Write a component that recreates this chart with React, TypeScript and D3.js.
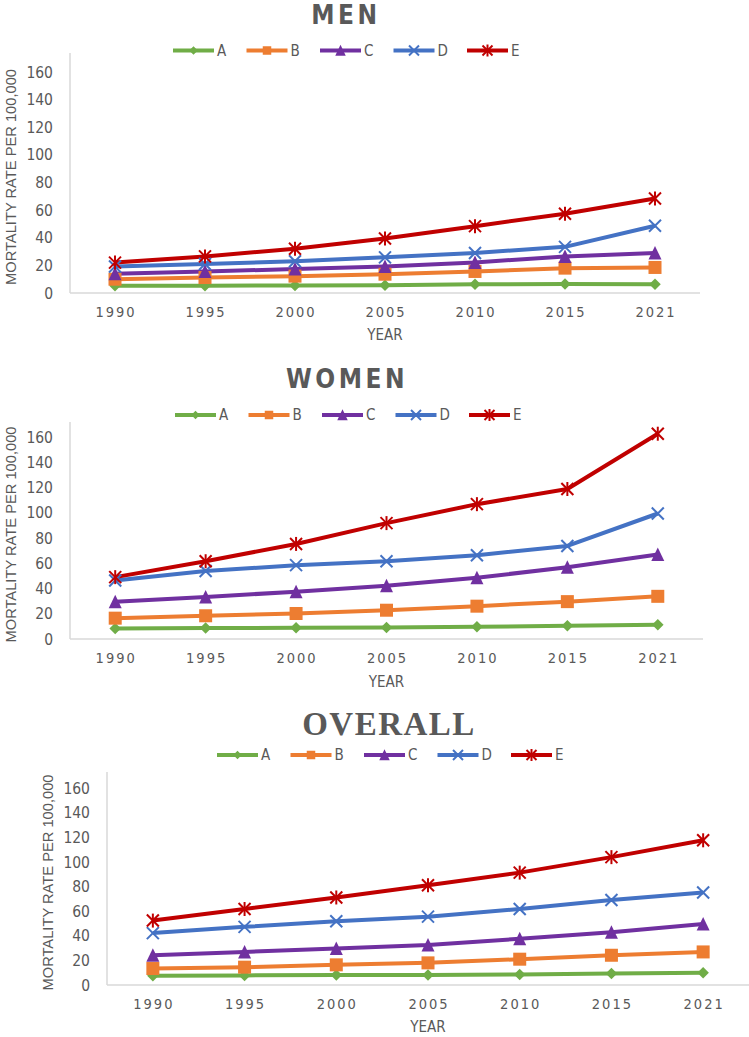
import React from "react";
import * as d3 from "d3";

const years = ["1990", "1995", "2000", "2005", "2010", "2015", "2021"];
const yTicks = [0, 20, 40, 60, 80, 100, 120, 140, 160];
const seriesNames = ["A", "B", "C", "D", "E"];
const seriesColors = ["#70AD47", "#ED7D31", "#7030A0", "#4472C4", "#C00000"];
const panelTitles = ["MEN", "WOMEN", "OVERALL"];
const yAxisLabel = "MORTALITY RATE PER 100,000";
const xAxisLabel = "YEAR";

const menA = [5.3, 5.3, 5.5, 5.6, 6.3, 6.6, 6.3];
const menB = [10, 11.2, 12.2, 13.6, 15.6, 18, 18.5];
const menC = [13.9, 15.6, 17.3, 19.2, 22.1, 26.5, 29];
const menD = [19.2, 21, 23, 25.8, 29, 33.4, 48.7];
const menE = [22, 26.5, 32, 39.4, 48.4, 57.4, 68.4];

const womenA = [8.4, 8.7, 8.9, 9.2, 9.7, 10.5, 11.3];
const womenB = [16.5, 18.4, 20.2, 22.8, 26, 29.6, 33.8];
const womenC = [29.6, 33.3, 37.5, 42.2, 48.5, 56.9, 66.9];
const womenD = [46.4, 53.8, 58.5, 61.6, 66.4, 73.7, 99.4];
const womenE = [49, 61.6, 75.3, 91.8, 106.8, 118.8, 162.6];

const overallA = [7.5, 7.8, 8.1, 8.1, 8.6, 9.4, 9.9];
const overallB = [13.4, 14.5, 16.4, 18, 21, 24.2, 26.9];
const overallC = [24.2, 26.9, 29.6, 32.5, 37.6, 43, 49.7];
const overallD = [42.2, 47.3, 51.9, 55.6, 61.8, 69.1, 75.3];
const overallE = [52.4, 61.8, 71.2, 81.2, 91.4, 104, 117.7];

const panelData = [
  [menA, menB, menC, menD, menE],
  [womenA, womenB, womenC, womenD, womenE],
  [overallA, overallB, overallC, overallD, overallE],
];

const SANS_COND = "'DejaVu Sans Condensed', 'DejaVu Sans', sans-serif";
const TEXT = "#595959";
const AXIS = "#D9D9D9";

const layouts = [
  { x0: 70, x1: 700, yBase: 293, y160: 72, axisTop: 53, tickRight: 53, xLabelY: 312, yearY: 335, yLabelX: 11, titleX: 346, titleY: 24, serif: false, legendX: 173, legendY: 50.5 },
  { x0: 70, x1: 703, yBase: 639, y160: 437, axisTop: 422, tickRight: 53, xLabelY: 658, yearY: 682, yLabelX: 11, titleX: 347, titleY: 388, serif: false, legendX: 175, legendY: 415 },
  { x0: 107, x1: 749, yBase: 985, y160: 788.3, axisTop: 772, tickRight: 90, xLabelY: 1004, yearY: 1027, yLabelX: 48, titleX: 389, titleY: 735, serif: true, legendX: 217, legendY: 755 },
];

function Marker({ kind, x, y, color, s }: { kind: number; x: number; y: number; color: string; s: number }) {
  const h = s / 2;
  if (kind === 0) {
    return <polygon points={`${x},${y - h} ${x + h},${y} ${x},${y + h} ${x - h},${y}`} fill={color} />;
  }
  if (kind === 1) {
    return <rect x={x - h} y={y - h} width={s} height={s} fill={color} />;
  }
  if (kind === 2) {
    return <polygon points={`${x},${y - h - 0.5} ${x + h},${y + h} ${x - h},${y + h}`} fill={color} />;
  }
  if (kind === 3) {
    return (
      <g stroke={color} strokeWidth={2}>
        <line x1={x - h} y1={y - h} x2={x + h} y2={y + h} />
        <line x1={x - h} y1={y + h} x2={x + h} y2={y - h} />
      </g>
    );
  }
  return (
    <g stroke={color} strokeWidth={2}>
      <line x1={x - h} y1={y - h} x2={x + h} y2={y + h} />
      <line x1={x - h} y1={y + h} x2={x + h} y2={y - h} />
      <line x1={x} y1={y - h - 1} x2={x} y2={y + h + 1} />
    </g>
  );
}

function Panel({ idx }: { idx: number }) {
  const L = layouts[idx];
  const data = panelData[idx];
  const x = d3.scaleBand<string>().domain(years).range([L.x0, L.x1]);
  const y = d3.scaleLinear().domain([0, 160]).range([L.yBase, L.y160]);
  const cx = (yr: string) => (x(yr) as number) + x.bandwidth() / 2;
  const line = d3
    .line<number>()
    .x((_, i) => cx(years[i]))
    .y((d) => y(d));
  const markerSizes = [11.5, 13, 13, 12, 12];
  const legendMarkerSizes = [8.5, 8.5, 10.5, 10, 10];
  return (
    <g>
      <text
        x={L.titleX}
        y={L.titleY}
        textAnchor="middle"
        fill={TEXT}
        fontFamily={L.serif ? "'Liberation Serif', 'Times New Roman', serif" : SANS_COND}
        fontWeight="bold"
        fontSize={L.serif ? 33 : 26}
        letterSpacing={L.serif ? 1.5 : 3.5}
      >
        {panelTitles[idx]}
      </text>
      {seriesNames.map((name, i) => {
        const lx = L.legendX + i * 73.5;
        return (
          <g key={name}>
            <line x1={lx} x2={lx + 41} y1={L.legendY} y2={L.legendY} stroke={seriesColors[i]} strokeWidth={4} />
            <Marker kind={i} x={lx + 20.5} y={L.legendY} color={seriesColors[i]} s={legendMarkerSizes[i]} />
            <text x={lx + 44} y={L.legendY} dy="0.36em" fill={TEXT} fontFamily={SANS_COND} fontSize={15}>
              {name}
            </text>
          </g>
        );
      })}
      <line x1={L.x0} x2={L.x0} y1={L.axisTop} y2={L.yBase} stroke={AXIS} strokeWidth={1.5} />
      <line x1={L.x0} x2={L.x1} y1={L.yBase} y2={L.yBase} stroke={AXIS} strokeWidth={1.5} />
      {yTicks.map((t) => (
        <text key={t} x={L.tickRight} y={y(t)} dy="0.36em" textAnchor="end" fill={TEXT} fontFamily={SANS_COND} fontSize={15.5}>
          {t}
        </text>
      ))}
      {years.map((yr) => (
        <text key={yr} x={cx(yr) + 1} y={L.xLabelY} dy="0.36em" textAnchor="middle" fill={TEXT} fontFamily={SANS_COND} fontSize={14.5} letterSpacing={2}>
          {yr}
        </text>
      ))}
      <text x={(L.x0 + L.x1) / 2} y={L.yearY} dy="0.36em" textAnchor="middle" fill={TEXT} fontFamily={SANS_COND} fontSize={15}>
        {xAxisLabel}
      </text>
      <text
        transform={`translate(${L.yLabelX},${(L.axisTop + L.yBase) / 2 + 4}) rotate(-90)`}
        textAnchor="middle"
        dy="0.36em"
        fill={TEXT}
        fontFamily="'Liberation Sans', Arial, sans-serif"
        fontSize={14.7}
      >
        {yAxisLabel}
      </text>
      {data.map((vals, i) => (
        <path key={i} d={line(vals) || ""} fill="none" stroke={seriesColors[i]} strokeWidth={4} strokeLinejoin="round" />
      ))}
      {data.map((vals, i) =>
        vals.map((v, j) => (
          <Marker key={`${i}-${j}`} kind={i} x={cx(years[j])} y={y(v)} color={seriesColors[i]} s={markerSizes[i]} />
        ))
      )}
    </g>
  );
}

export default function App() {
  return (
    <svg
      width={749}
      height={1037}
      viewBox="0 0 749 1037"
      style={{ position: "absolute", left: 0, top: 0, background: "#fff" }}
    >
      <rect width={749} height={1037} fill="#fff" />
      {panelTitles.map((_, i) => (
        <Panel key={i} idx={i} />
      ))}
    </svg>
  );
}
